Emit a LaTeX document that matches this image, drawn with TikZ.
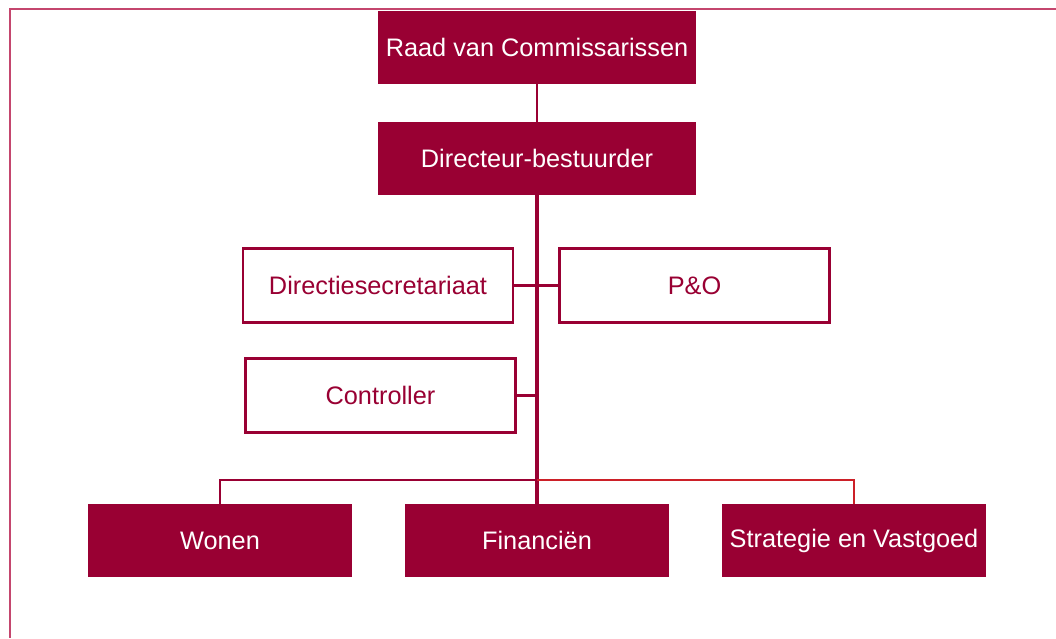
\documentclass[tikz,border=0pt]{standalone}
\usepackage{fontspec}
\setmainfont{Liberation Sans}
\usepackage{tikz}
\usetikzlibrary{positioning}

\definecolor{wine}{RGB}{153,0,51}
\definecolor{framepink}{RGB}{196,70,110}
\definecolor{linered}{RGB}{204,32,40}

\begin{document}
\begin{tikzpicture}[x=0.025cm, y=-0.025cm,
    every node/.style={font=\fontsize{18}{20}\selectfont},
    darkbox/.style={fill=wine, text=white, minimum width=7.95cm, minimum height=1.8cm, inner sep=0pt},
    lightbox/.style={draw=wine, line width=1.6pt, fill=white, text=wine, minimum width=6.75cm, minimum height=1.85cm, inner sep=0pt},
    unitbox/.style={fill=wine, text=white, minimum width=6.6cm, minimum height=1.82cm, inner sep=0pt},
    link/.style={draw=wine, line width=2pt}]
			\useasboundingbox (0,0) rectangle (1056,638);
			\draw[framepink, line width=2pt] (1056,9) -- (10,9) -- (10,638);
			\draw
			node[darkbox] (raad) at (537, 47.5){Raad van Commissarissen}
			node[darkbox] (dir) at (537, 158.5){Directeur-bestuurder}
			node[lightbox] (sec) at (378, 285.5){Directiesecretariaat}
			node[lightbox] (po) at (694.5, 285.5){P\&O}
			node[lightbox] (ctrl) at (380.5, 395.5){Controller}
			node[unitbox] (won) at (220, 540.5){Wonen}
			node[unitbox] (fin) at (537, 540.5){Financiën}
			node[unitbox] (strat) at (854, 540.5){Strategie en Vastgoed};
			\coordinate (bar) at (537, 480);
			\draw [link] (raad) -- (dir);
			\draw [link, line width=2.4pt] (dir) -- (fin);
				\draw [link] (sec) -- (po);
				\draw [link] (ctrl.east) -- (ctrl.east -| dir.south);
			\draw [link] (won.north) |- (bar);
			\draw [link, draw=linered] (bar) -| (strat.north);
		\end{tikzpicture}
\end{document}
